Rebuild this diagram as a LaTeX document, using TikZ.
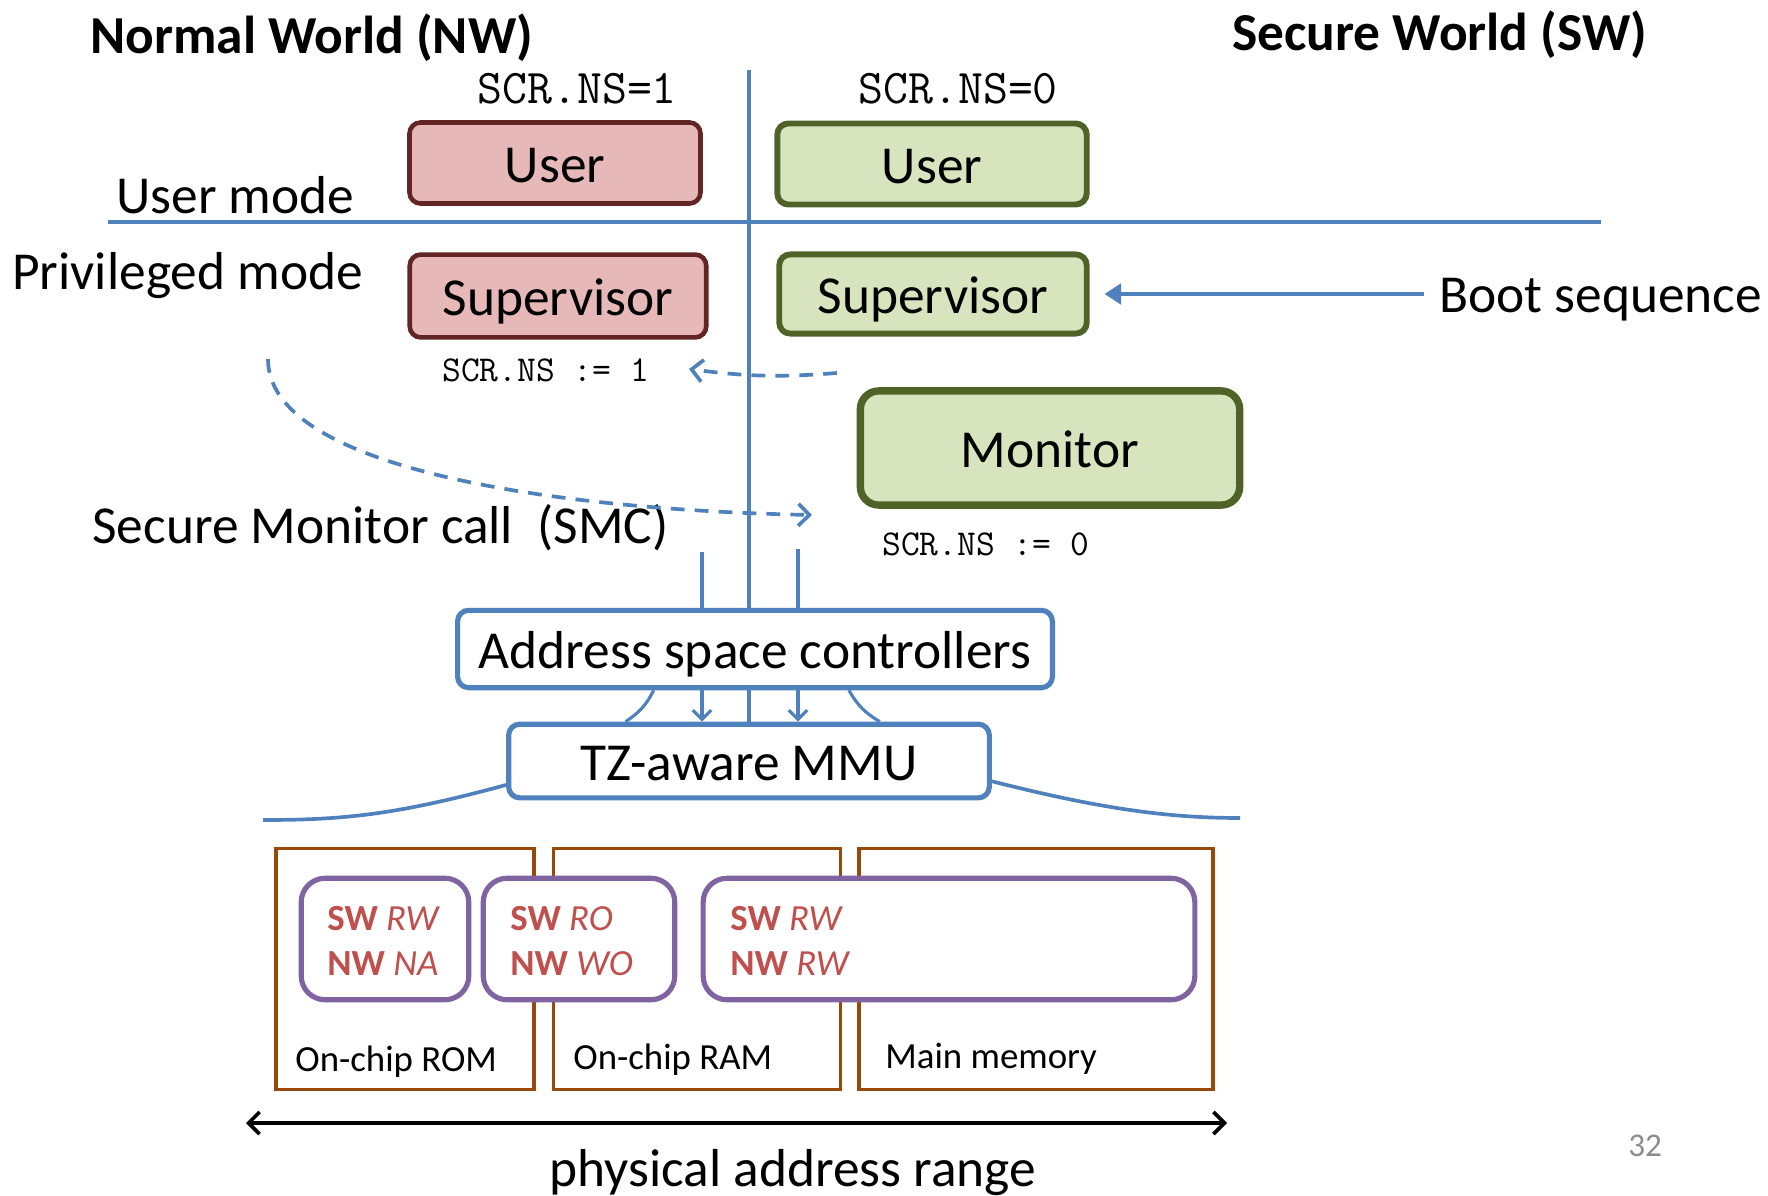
\documentclass[tikz,border=0pt]{standalone}
\usepackage{fontspec}
\setmainfont{Carlito}
\usepackage{xcolor}
\usepackage{tikz}
\usetikzlibrary{arrows.meta}

\definecolor{tzblue}{HTML}{4F81BD}
\definecolor{nwfill}{HTML}{E6B9B8}
\definecolor{nwdraw}{HTML}{632523}
\definecolor{swfill}{HTML}{D7E4BD}
\definecolor{swdraw}{HTML}{4F6228}
\definecolor{permdraw}{HTML}{8064A2}
\definecolor{permtext}{HTML}{C0504D}
\definecolor{memdraw}{HTML}{984807}
\definecolor{pagegray}{HTML}{8C8C8C}

\begin{document}
\begin{tikzpicture}[x=0.543pt, y=-0.543pt,
    every node/.style={font=\fontsize{29}{35}\selectfont},
    lbl/.style={anchor=base west, inner sep=0pt},
    regs/.style={lbl, font=\ttfamily\fontsize{19.8}{23}\selectfont},
    boxtext/.style={text height=23pt, text depth=2pt},
    nwbox/.style={boxtext, draw=nwdraw, fill=nwfill, line width=2.5pt, rounded corners=6pt},
    swbox/.style={boxtext, draw=swdraw, fill=swfill, line width=3.2pt, rounded corners=6pt},
    hwbox/.style={boxtext, draw=tzblue, fill=white, line width=2.8pt, rounded corners=6pt},
    membox/.style={draw=memdraw, line width=1.9pt, minimum height=131pt},
    permbox/.style={draw=permdraw, fill=white, line width=2.8pt, rounded corners=13pt, minimum height=66pt},
    permtxt/.style={lbl, text=permtext, align=left, font=\fontsize{20}{24.4}\selectfont},
    divider/.style={draw=tzblue, line width=1.8pt},
    smc/.style={draw=tzblue, line width=2pt, dash pattern=on 7.5pt off 5.5pt, -{Straight Barb[length=6pt,width=12pt]}},
    bus/.style={draw=tzblue, line width=1.7pt, -{Straight Barb[length=5pt,width=10pt]}},
    skirt/.style={draw=tzblue, line width=2pt}]

    \useasboundingbox (0,0) rectangle (1768,1196);

    % titles and mode labels
    \node[lbl, font=\bfseries\fontsize{29}{35}\selectfont] (nwtitle) at (90,54) {Normal World (NW)};
    \node[lbl, font=\bfseries\fontsize{29}{35}\selectfont] (swtitle) at (1232,51) {Secure World (SW)};
    \node[lbl] (usermode) at (116,214) {User mode};
    \node[lbl] (privmode) at (12,290) {Privileged mode};
    \node[lbl, font=\ttfamily\fontsize{26.3}{30}\selectfont] (nsone) at (477,104) {SCR.NS=1};
    \node[lbl, font=\ttfamily\fontsize{26.3}{30}\selectfont] (nszero) at (858,104) {SCR.NS=0};

    % world dividers
    \coordinate (divtop) at (749,70);
    \draw[divider] (108,222) -- (1601,222);

    % processor modes
    \node[nwbox, minimum width=158pt, minimum height=44pt] (nwuser) at (555,163) {User};
    \node[swbox, minimum width=168pt, minimum height=44pt] (swuser) at (932,164) {User};
    \node[nwbox, minimum width=161pt, minimum height=45pt] (nwsup) at (558,296) {Supervisor};
    \node[swbox, minimum width=167pt, minimum height=43pt] (swsup) at (933,294) {Supervisor};
    \node[swbox, line width=4pt, rounded corners=10pt, minimum width=206pt, minimum height=62pt] (monitor) at (1050,448) {Monitor};

    \node[regs] (setone) at (442,381) {SCR.NS := 1};
    \node[regs] (setzero) at (882,555) {SCR.NS := 0};

    \node[lbl] (boot) at (1439,312) {Boot sequence};
    \draw[tzblue, line width=2.2pt, -{Triangle[length=9pt,width=11pt]}, shorten <=8pt, shorten >=8pt] (boot.west |- swsup.east) -- (swsup.east);

    % secure monitor call
    \node[lbl] (smclbl) at (92,543) {Secure Monitor call~~(SMC)};
    \coordinate (smcfrom) at (268,359);
    \coordinate (smcto) at (812,515);
    \draw[smc] (smcfrom) .. controls (268,470) and (560,510) .. (smcto);
    \coordinate (retfrom) at (837,373);
    \coordinate (retto) at (689,369);
    \draw[smc] (retfrom) to[bend left=6] (retto);

    % hardware
    \node[hwbox, minimum width=323pt, minimum height=42pt] (asc) at (755,649) {Address space controllers};
    \node[hwbox, minimum width=261pt, minimum height=40pt] (mmu) at (749,761) {TZ-aware MMU};

    \coordinate (nwbus) at (702,552);
    \coordinate (swbus) at (798,549);
    \draw[divider] (divtop) -- (divtop |- asc.north);
    \draw[divider] (divtop |- asc.south) -- (divtop |- mmu.north);
    \draw[divider] (nwbus) -- (nwbus |- asc.north);
    \draw[divider] (swbus) -- (swbus |- asc.north);
    \draw[bus] (nwbus |- asc.south) -- (nwbus |- mmu.north);
    \draw[bus] (swbus |- asc.south) -- (swbus |- mmu.north);
    \draw[skirt, line width=1.7pt] ([xshift=-55pt]asc.south) to[bend left=15] ([xshift=-67pt]mmu.north);
    \draw[skirt, line width=1.7pt] ([xshift=51pt]asc.south) to[bend right=15] ([xshift=71pt]mmu.north);

    \coordinate (skirtl) at (263,820);
    \coordinate (skirtr) at (1240,818);
    \draw[skirt] ([yshift=-13pt]mmu.west) .. controls +(-110,30) and +(80,0) .. (skirtl);
    \draw[skirt] ([yshift=-11pt]mmu.east) .. controls +(110,28) and +(-70,0) .. (skirtr);

    % memories
    \node[membox, minimum width=140pt] (rom) at (405,969) {};
    \node[membox, minimum width=156pt] (ram) at (697,969) {};
    \node[membox, minimum width=192pt] (mainmem) at (1036,969) {};

    \node[permbox, minimum width=91pt] (romperm) at (385,939) {};
    \node[permbox, minimum width=104pt] (ramperm) at (579,939) {};
    \node[permbox, minimum width=267pt] (mainperm) at (949,939) {};

    \node[permtxt] (romacc) at (327,975) {\textbf{SW} \textit{RW}\\\textbf{NW} \textit{NA}};
    \node[permtxt] (ramacc) at (510,975) {\textbf{SW} \textit{RO}\\\textbf{NW} \textit{WO}};
    \node[permtxt] (mainacc) at (730,975) {\textbf{SW} \textit{RW}\\\textbf{NW} \textit{RW}};

    \node[lbl, font=\fontsize{20}{24}\selectfont] (romlbl) at (295,1071) {On-chip ROM};
    \node[lbl, font=\fontsize{20}{24}\selectfont] (ramlbl) at (573,1069) {On-chip RAM};
    \node[lbl, font=\fontsize{20}{24}\selectfont] (mainlbl) at (885,1068) {Main memory};

    % address range
    \coordinate (rangel) at (246,1123);
    \coordinate (ranger) at (1227,1123);
    \draw[line width=2pt, {Straight Barb[length=6pt,width=12pt]}-{Straight Barb[length=6pt,width=12pt]}] (rangel) -- (ranger);
    \node[anchor=base, inner sep=0pt] (rangelbl) at (793,1186) {physical address range};

    \node[lbl, text=pagegray, font=\fontsize{18}{21}\selectfont] (pageno) at (1628,1156) {32};
\end{tikzpicture}
\end{document}
